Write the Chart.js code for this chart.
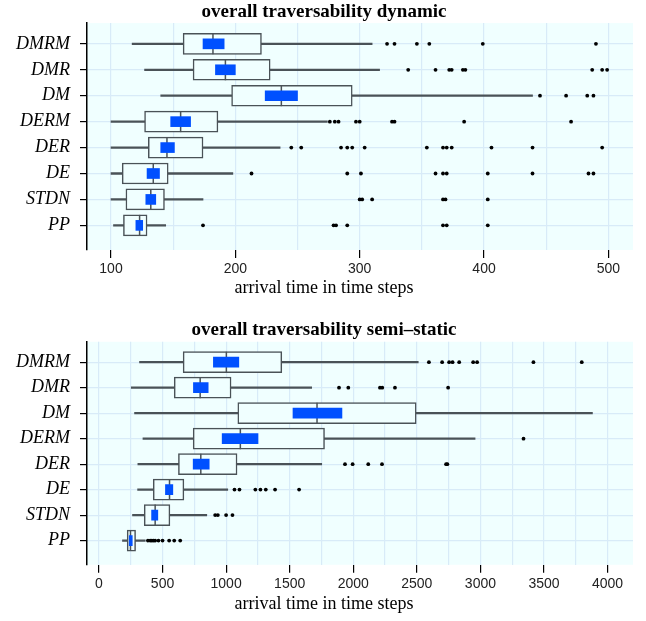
<!DOCTYPE html>
<html>
<head>
<meta charset="utf-8">
<script src="https://cdn.jsdelivr.net/npm/chart.js@4"></script>
<style>
  html, body { margin:0; padding:0; background:#fff; }
  #wrap { width:646px; height:621px; position:relative; }
  canvas { display:block; }
</style>
</head>
<body>
<div id="wrap">
  <div style="width:646px;height:310px"><canvas id="chart-dyn"></canvas></div>
  <div style="width:646px;height:311px"><canvas id="chart-semi"></canvas></div>
</div>
<script>
// categorias (de arriba hacia abajo)
const labels = ['DMRM','DMR','DM','DERM','DER','DE','STDN','PP'];

// ── panel 1: dynamic ──
const dynWhiskLo = [117, 127, 140, 100, 100, 100, 100, 102];
const dynQ1      = [158, 166, 197, 127, 130, 109, 112, 110];
const dynMedian  = [182, 192, 237, 156, 145, 134, 132, 123];
const dynQ3      = [221, 228, 294, 186, 174, 146, 143, 129];
const dynWhiskHi = [310, 316, 439, 274, 236, 198, 174, 144];
const dynMeanLo  = [174, 184, 224, 148, 140, 129, 128, 120];
const dynMeanHi  = [191, 200, 250, 164, 151, 139, 136, 125.5];
const dynOutliers = [
  [322, 328, 346, 356, 399, 490],
  [339, 361, 372, 374, 383, 385, 487, 495, 499],
  [445, 466, 483, 488],
  [276, 280, 283, 297, 300, 326, 328, 384, 470],
  [245, 253, 285, 290, 294, 304, 354, 367, 370, 374, 406, 439, 495],
  [213, 290, 301, 361, 367, 370, 403, 439, 484, 488],
  [300, 302, 310, 367, 369, 403],
  [174, 279, 281, 290, 367, 370, 403],
];

// ── panel 2: semi-static ──
const semiWhiskLo = [319, 254, 280, 346, 306, 304, 264, 185];
const semiQ1      = [662, 592, 1092, 741, 625, 427, 356, 222];
const semiMedian  = [1002, 796, 1715, 1112, 801, 555, 442, 248];
const semiQ3      = [1438, 1039, 2495, 1774, 1086, 668, 558, 288];
const semiWhiskHi = [2511, 1673, 3881, 2958, 1752, 1013, 848, 364];
const semiMeanLo  = [900, 743, 1526, 969, 741, 523, 414, 238];
const semiMeanHi  = [1100, 859, 1911, 1251, 867, 581, 463, 262];
const semiOutliers = [
  [2595, 2699, 2754, 2781, 2833, 2943, 2974, 3417, 3797],
  [1888, 1961, 2210, 2228, 2328, 2746],
  [],
  [3339],
  [1935, 1995, 2118, 2226, 2730, 2740],
  [1066, 1105, 1230, 1270, 1312, 1385, 1574],
  [914, 935, 1000, 1050],
  [385, 403, 416, 429, 442, 468, 500, 552, 592, 639],
];

const C = {
  box:'#4a5257', fill:'#f0ffff', mean:'#0050ff', grid:'#d8ebf8', dot:'#000',
};

function floating(lo, hi) {
  return lo.map((v, i) => ({x:[v, hi[i]], y:i}));
}

function buildChart(id, cfg) {
  const canvas = document.getElementById(id);
  const outPts = [];
  cfg.outliers.forEach((row, i) => row.forEach(v => outPts.push({x:v, y:i})));

  return new Chart(canvas, {
    type:'bar',
    data:{
      datasets:[
        {type:'bar', indexAxis:'y', grouped:false, order:5,
         data:floating(cfg.whLo, cfg.whHi), backgroundColor:C.box, barThickness:1.6},
        {type:'bar', indexAxis:'y', grouped:false, order:4,
         data:floating(cfg.q1, cfg.q3), backgroundColor:C.fill, borderColor:C.box,
         borderWidth:1.5, borderSkipped:false, barThickness:21},
        {type:'scatter', order:3,
         data:cfg.med.map((v, i) => ({x:v, y:i})),
         pointStyle:'line', rotation:90, radius:10.5, borderColor:C.box, borderWidth:1.5},
        {type:'bar', indexAxis:'y', grouped:false, order:2,
         data:floating(cfg.mLo, cfg.mHi), backgroundColor:C.mean, barThickness:10},
        {type:'scatter', order:1,
         data:outPts, pointStyle:'circle', radius:1.9, backgroundColor:C.dot, borderWidth:0},
      ]
    },
    options:{
      responsive:true, maintainAspectRatio:false, animation:false,
      layout:{padding:{left:15, right:13, top:0, bottom:cfg.padBottom}},
      plugins:{
        legend:{display:false}, tooltip:{enabled:false},
        title:{display:true, text:cfg.title, color:'#000',
          font:{family:'Liberation Serif', size:19, weight:'bold'},
          padding:{top:cfg.titleTop, bottom:0}},
        subtitle:{display:true, position:'bottom', text:'arrival time in time steps', color:'#000',
          font:{family:'Liberation Serif', size:18}, padding:0},
        plotBg:{color:C.fill},
      },
      scales:{
        x:{
          type:'linear', min:cfg.xMin, max:cfg.xMax, offset:false,
          afterBuildTicks:s => { s.ticks = cfg.xTicks.map(v => ({value:v})); },
          afterFit:s => { s.height = cfg.axisH; },
          ticks:{color:'#222', font:{family:'Liberation Sans', size:14}, padding:3,
            autoSkip:false, maxRotation:0,
            callback:v => (v % cfg.major === 0 ? String(v) : '')},
          grid:{offset:false, color:C.grid, lineWidth:1.2, tickLength:8,
            tickColor:c => (c.tick && c.tick.value % cfg.major === 0 ? '#000' : 'rgba(0,0,0,0)')},
          border:{display:false},
        },
        y:{
          type:'linear', reverse:true, min:-0.8, max:7.95, offset:false,
          afterBuildTicks:s => { s.ticks = labels.map((l, i) => ({value:i})); },
          afterFit:s => { s.width = 72; },
          ticks:{color:'#000', font:{family:'Liberation Serif', size:18, style:'italic'}, padding:10,
            autoSkip:false, callback:v => labels[v] || ''},
          grid:{offset:false, color:C.grid, lineWidth:1.2, tickLength:7, tickColor:'#000'},
          border:{display:true, color:'#000', width:1.5},
        }
      }
    },
    plugins:[{
      id:'plotBg',
      beforeDraw(chart, args, opts) {
        const {ctx, chartArea:a} = chart;
        ctx.save();
        ctx.fillStyle = opts.color;
        ctx.fillRect(a.left, a.top, a.right - a.left, a.bottom - a.top);
        ctx.restore();
      }
    }]
  });
}

buildChart('chart-dyn', {
  title:'overall traversability dynamic', titleTop:0.3, padBottom:11.4, axisH:27,
  xMin:80.7, xMax:519.8, major:100,
  xTicks:[100,150,200,250,300,350,400,450,500],
  whLo:dynWhiskLo, q1:dynQ1, med:dynMedian, q3:dynQ3, whHi:dynWhiskHi,
  mLo:dynMeanLo, mHi:dynMeanHi, outliers:dynOutliers,
});

buildChart('chart-semi', {
  title:'overall traversability semi\u2013static', titleTop:9, padBottom:5.6, axisH:29,
  xMin:-94, xMax:4200, major:500,
  xTicks:[0,250,500,750,1000,1250,1500,1750,2000,2250,2500,2750,3000,3250,3500,3750,4000],
  whLo:semiWhiskLo, q1:semiQ1, med:semiMedian, q3:semiQ3, whHi:semiWhiskHi,
  mLo:semiMeanLo, mHi:semiMeanHi, outliers:semiOutliers,
});
</script>
</body>
</html>
